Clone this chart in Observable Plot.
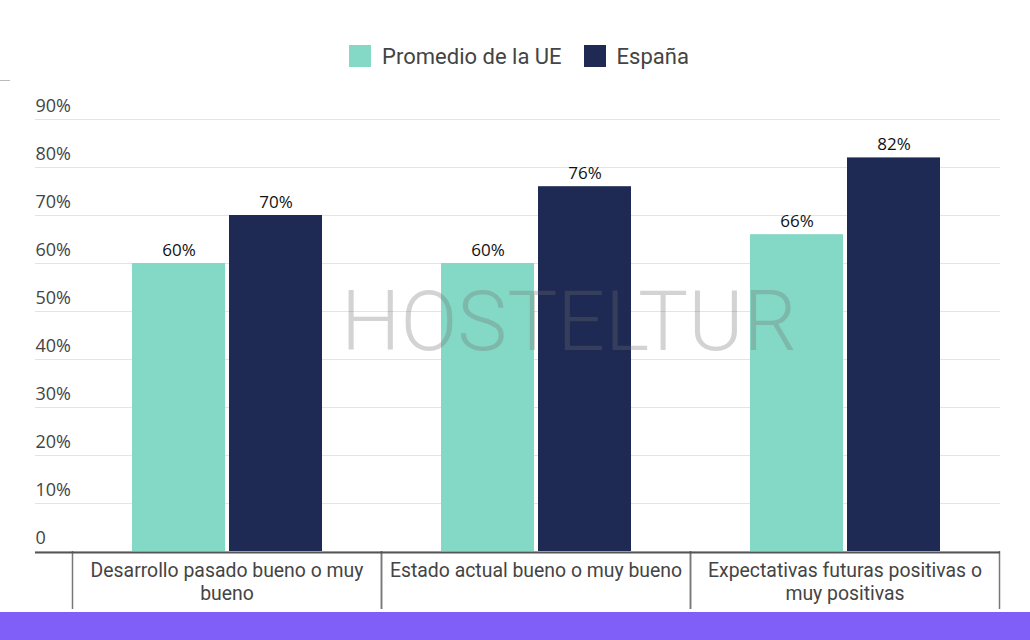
<!DOCTYPE html>
<html>
<head>
<meta charset="utf-8">
<script src="https://cdn.jsdelivr.net/npm/d3@7"></script>
<script src="https://cdn.jsdelivr.net/npm/@observablehq/plot@0.6"></script>
<style>
  html, body { margin: 0; padding: 0; background: #fff; width: 1030px; height: 640px; overflow: hidden; }
  #wrap { position: relative; width: 1030px; height: 640px; }
  #legend { height: 80px; display: flex; justify-content: center; align-items: center; padding-top: 32px; padding-left: 8px; box-sizing: border-box; font-family: Roboto, sans-serif; font-size: 22px; color: #444; }
  .item { display: flex; align-items: center; margin: 0 11px; }
  .sw { width: 22px; height: 22px; margin-right: 11px; }
  #chart { position: relative; width: 1030px; height: 532px; }
  #chart svg { position: absolute; left: 0; top: 0; }
  #band { position: absolute; left: 0; top: 612px; width: 1030px; height: 28px; background: #7f5ff8; }
  #tick { position: absolute; left: 0; top: 80px; width: 10px; height: 1px; background: #bbb; }
  #wm { position: absolute; left: 341px; top: 272px; font-family: Roboto, sans-serif; font-weight: 300; font-size: 84px; color: rgba(110,110,110,0.3); pointer-events: none; }
</style>
</head>
<body>
<div id="wrap">
  <div id="tick"></div>
  <div id="legend"></div>
  <div id="chart"></div>
  <div id="wm">HOSTELTUR</div>
  <div id="band"></div>
</div>
<script>
const categories = [
  "Desarrollo pasado bueno o muy bueno",
  "Estado actual bueno o muy bueno",
  "Expectativas futuras positivas o muy positivas"
];
const seriesNames = ["Promedio de la UE", "España"];
const promedioUE = [60, 60, 66];
const espana = [70, 76, 82];
const yTicks = [0, 10, 20, 30, 40, 50, 60, 70, 80, 90];
const yTickLabels = ["0", "10%", "20%", "30%", "40%", "50%", "60%", "70%", "80%", "90%"];
const colors = ["#84d8c6", "#1f2a54"];

const data = [];
categories.forEach((c, i) => {
  data.push({cat: c, series: seriesNames[0], value: promedioUE[i]});
  data.push({cat: c, series: seriesNames[1], value: espana[i]});
});

// legend
const legend = document.getElementById("legend");
seriesNames.forEach((s, i) => {
  const it = document.createElement("div");
  it.className = "item";
  const sw = document.createElement("div");
  sw.className = "sw";
  sw.style.background = colors[i];
  const t = document.createElement("span");
  t.textContent = s;
  it.appendChild(sw); it.appendChild(t);
  legend.appendChild(it);
});

const dims = {width: 1030, height: 532, marginTop: 39, marginBottom: 61, marginLeft: 35, marginRight: 30};
const fxLeft = 72, fxRight = 999;
const half = (fxRight - fxLeft) / categories.length / 2;

// background: grid, y labels
const back = Plot.plot({
  ...dims,
  style: {fontFamily: "Roboto, sans-serif", background: "transparent", overflow: "visible"},
  y: {domain: [0, 90], axis: null},
  marks: [
    Plot.gridY(yTicks, {stroke: "#e4e4e4", strokeOpacity: 1}),
    Plot.text(yTicks, {y: d => d, text: (d, i) => yTickLabels[i], frameAnchor: "left", textAnchor: "start", dy: -13, fontSize: 18, fill: "#444", fontFamily: "Open Sans, sans-serif"})
  ]
});

// foreground: grouped bars
const front = Plot.plot({
  ...dims,
  style: {fontFamily: "Roboto, sans-serif", background: "transparent", overflow: "visible"},
  fx: {domain: categories, range: [fxLeft, fxRight], padding: 0, label: null, axis: null},
  x: {domain: seriesNames, paddingInner: 0.042, paddingOuter: 0.61, axis: null},
  y: {domain: [0, 90], axis: null},
  color: {domain: seriesNames, range: colors},
  marks: [
    Plot.barY(data, {fx: "cat", x: "series", y: "value", fill: "series"}),
    Plot.text(data, {fx: "cat", x: "series", y: "value", text: d => d.value + "%", dy: -13, fontSize: 17, fill: "#111", fontFamily: "Open Sans, sans-serif"}),
    Plot.axisFx({anchor: "bottom", tickSize: 58, tickFormat: () => "", dx: -half, stroke: "#777", strokeWidth: 1.5, label: null}),
    Plot.axisFx({anchor: "bottom", tickSize: 58, tickFormat: () => "", dx: half, stroke: "#777", strokeWidth: 1.5, label: null}),
    Plot.axisFx({anchor: "bottom", tickSize: 0, tickPadding: 9, fontSize: 19.4, lineWidth: 16.5, lineHeight: 1.2, fill: "#444", label: null})
  ]
});

// baseline on top
const base = Plot.plot({
  ...dims,
  style: {background: "transparent"},
  y: {domain: [0, 90], axis: null},
  marks: [Plot.ruleY([0], {stroke: "#555", strokeWidth: 2, dy: 1})]
});

const chartDiv = document.getElementById("chart");
chartDiv.appendChild(back);
chartDiv.appendChild(front);
chartDiv.appendChild(base);
</script>
</body>
</html>
